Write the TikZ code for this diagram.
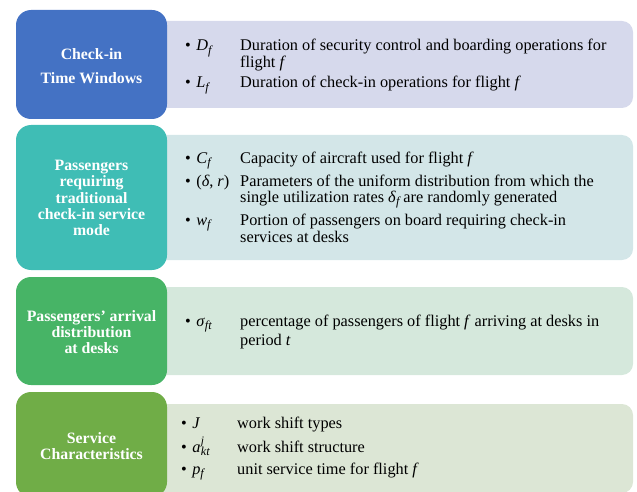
\documentclass[tikz,border=0pt]{standalone}
\usepackage{fontspec}
\setmainfont{Liberation Serif}
\definecolor{catA}{HTML}{4472C4}
\definecolor{catB}{HTML}{3FBDB5}
\definecolor{catC}{HTML}{47B466}
\definecolor{catD}{HTML}{70AD47}
\definecolor{panA}{HTML}{D6D9EC}
\definecolor{panB}{HTML}{D3E6E8}
\definecolor{panC}{HTML}{D5E8DC}
\definecolor{panD}{HTML}{DCE6D5}
% italic symbol, and its lowered / raised indices
\newcommand\tv[1]{\textit{#1}}
\newcommand\sbs[1]{\raisebox{-3.6pt}{\fontsize{12.2}{12}\selectfont\itshape#1}}
\newcommand\sps[1]{\raisebox{8pt}{\fontsize{11.5}{12}\selectfont\itshape#1}}
\begin{document}
\begin{tikzpicture}[x=1pt,y=-1pt,
  catbox/.style={rounded corners=15pt},
  panelbox/.style={rounded corners=11pt},
  head/.style={text=white, inner sep=0, align=center,
    font=\bfseries\fontsize{15.8}{16.4}\selectfont},
  lbl/.style={anchor=base west, inner sep=0, font=\fontsize{16.3}{17}\selectfont},
  txt/.style={anchor=base west, inner sep=0, font=\fontsize{16.3}{17}\selectfont},
]
\useasboundingbox (0,0) rectangle (637,492);
\clip (0,0) rectangle (637,492);

% light panels holding the parameter lists
\fill[panA, panelbox] (140,21)  rectangle (633,108);
\fill[panB, panelbox] (140,135) rectangle (633,260);
\fill[panC, panelbox] (140,287) rectangle (633,375);
\fill[panD, panelbox] (140,404) rectangle (633,493);

% coloured category boxes
\fill[catA, catbox] (16,10)  rectangle (167,119);
\fill[catB, catbox] (16,125) rectangle (167,270);
\fill[catC, catbox] (16,277) rectangle (167,385);
\fill[catD, catbox] (16,392) rectangle (167,497);

% category titles
\node[head, font=\bfseries\fontsize{15.8}{23.4}\selectfont] (hA) at (91.5,66)
  {Check-in\\Time Windows};
\node[head] (hB) at (91.5,198)
  {Passengers\\requiring\\traditional\\check-in service\\mode};
\node[head] (hC) at (91.5,332)
  {Passengers’ arrival\\distribution\\at desks};
\node[head] (hD) at (91.5,446)
  {Service\\Characteristics};

% check-in time windows
\node[lbl] (lA1) at (185,50.5) {•\,\,\tv{D}\sbs{f}};
\node[txt] (tA1) at (240,50.5) {Duration of security control and boarding operations for};
\node[txt] (tA1b) at (240,68) {flight \tv{f}};
\node[lbl] (lA2) at (185,88) {•\,\,\tv{L}\sbs{f}};
\node[txt] (tA2) at (240,88) {Duration of check-in operations for flight \tv{f}};

% passengers requiring traditional check-in
\node[lbl] (lB1) at (185,163) {•\,\,\tv{C}\sbs{f}};
\node[txt] (tB1) at (240,163) {Capacity of aircraft used for flight \tv{f}};
\node[lbl] (lB2) at (185,186) {•\,\,(\tv{δ}, \tv{r})};
\node[txt] (tB2) at (240,186) {Parameters of the uniform distribution from which the};
\node[txt] (tB2b) at (240,202) {single utilization rates \tv{δ}\sbs{f} are randomly generated};
\node[lbl] (lB3) at (185,225) {•\,\,\tv{w}\sbs{f}};
\node[txt] (tB3) at (240,225) {Portion of passengers on board requiring check-in};
\node[txt] (tB3b) at (240,242) {services at desks};

% arrival distribution
\node[lbl] (lC1) at (185,326) {•\,\,\tv{σ}\sbs{ft}};
\node[txt] (tC1) at (240,326) {percentage of passengers of flight \tv{f} arriving at desks in};
\node[txt] (tC1b) at (240,345) {period \tv{t}};

% service characteristics
\node[lbl] (lD1) at (181,428) {•\,\,\tv{J}};
\node[txt] (tD1) at (237,428) {work shift types};
\node[lbl] (lD2) at (181,452) {•\,\,\tv{a}\kern0.5pt\rlap{\sps{j}}\sbs{kt}};
\node[txt] (tD2) at (237,452) {work shift structure};
\node[lbl] (lD3) at (181,474) {•\,\,\tv{p}\sbs{f}};
\node[txt] (tD3) at (237,474) {unit service time for flight \tv{f}};
\end{tikzpicture}
\end{document}
